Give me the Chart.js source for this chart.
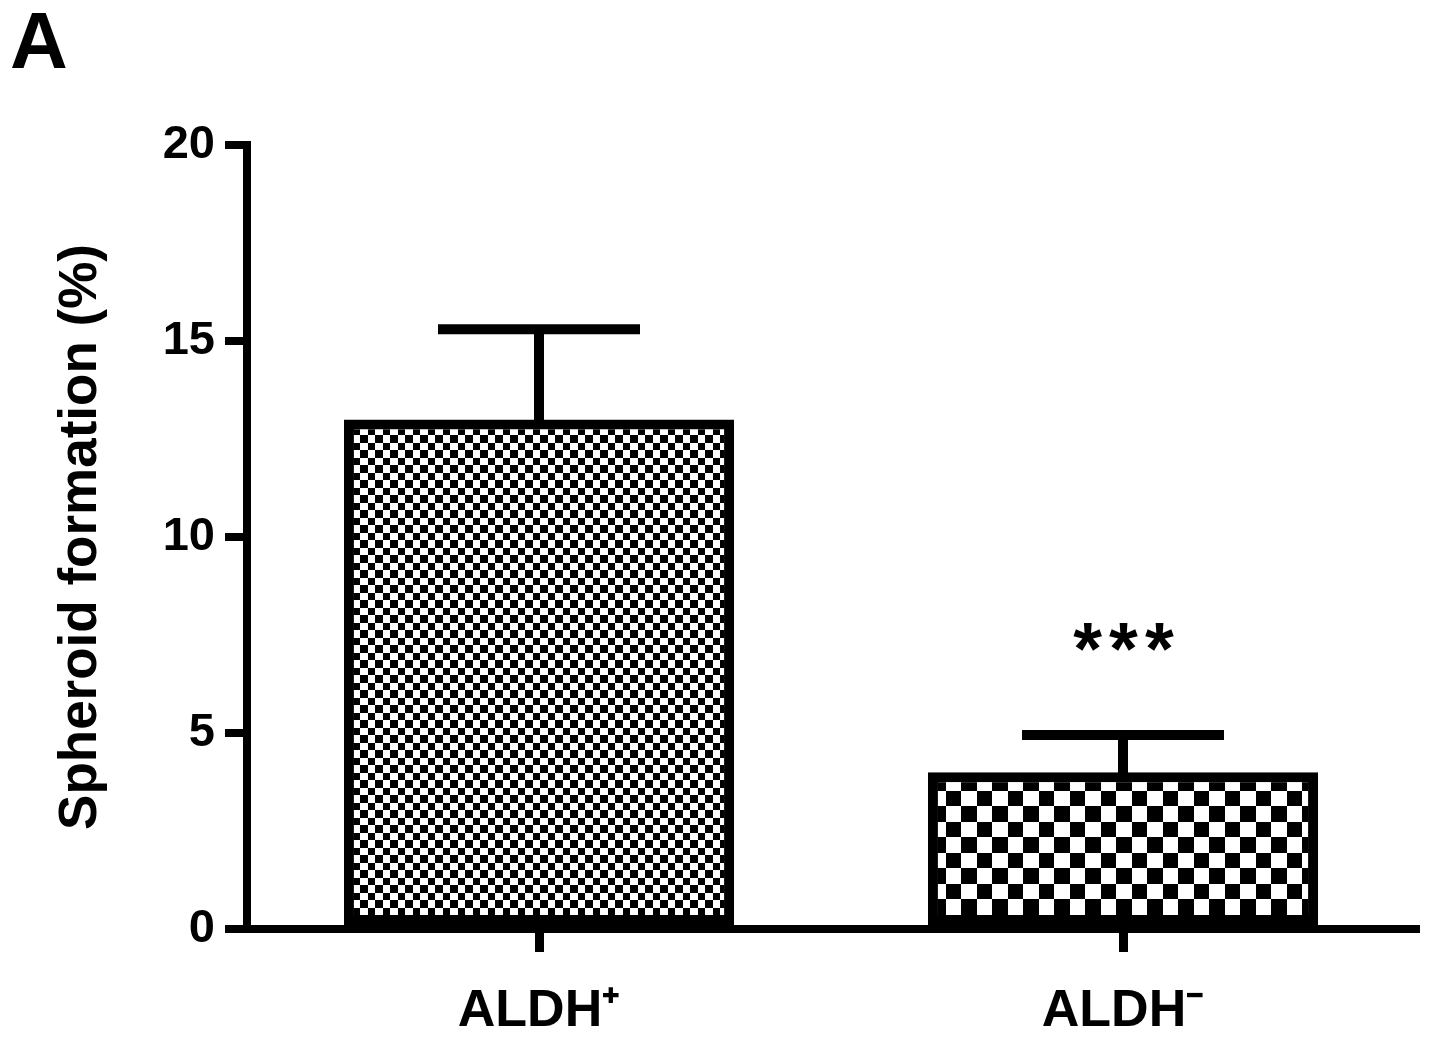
<!DOCTYPE html>
<html>
<head>
<meta charset="utf-8">
<script src="https://cdn.jsdelivr.net/npm/chart.js@4/dist/chart.umd.min.js"></script>
<style>
html,body{margin:0;padding:0;background:#fff;}
#wrap{width:1441px;height:1042px;position:relative;}
</style>
</head>
<body>
<div id="wrap"><canvas id="c" width="1441" height="1042"></canvas></div>
<script>
// ---- data ----
const categories = ['ALDH\u207A', 'ALDH\u207B'];
const means = [13.0, 4.0];
const sem = [2.3, 0.95];
const yTicks = [0, 5, 10, 15, 20];
const significance = ['', '***'];
const panelLabel = 'A';
const yTitle = 'Spheroid formation (%)';

// ---- patterns ----
function checker(sizes) {
  const total = sizes.reduce((a, b) => a + b, 0);
  const cv = document.createElement('canvas');
  cv.width = total; cv.height = total;
  const c = cv.getContext('2d');
  c.fillStyle = '#fff'; c.fillRect(0, 0, total, total);
  c.fillStyle = '#000';
  let y = 0;
  for (let i = 0; i < sizes.length; i++) {
    let x = 0;
    for (let j = 0; j < sizes.length; j++) {
      if ((i + j) % 2 === 0) c.fillRect(x, y, sizes[j], sizes[i]);
      x += sizes[j];
    }
    y += sizes[i];
  }
  return c.createPattern(cv, 'repeat');
}
const ctx = document.getElementById('c').getContext('2d');
const fills = [checker([8, 7, 8, 7]), checker([16, 15])];

const FONT = "'Liberation Sans', Arial, sans-serif";

const errorBars = {
  id: 'errorBars',
  afterDatasetsDraw(chart) {
    const c = chart.ctx;
    const meta = chart.getDatasetMeta(0);
    const ys = chart.scales.y;
    c.save();
    c.strokeStyle = '#000';
    c.lineWidth = 10;
    c.lineCap = 'butt';
    meta.data.forEach((bar, i) => {
      const yTop = ys.getPixelForValue(means[i] + sem[i]);
      const yBase = ys.getPixelForValue(means[i]) + 6;
      c.beginPath();
      c.moveTo(bar.x, yBase);
      c.lineTo(bar.x, yTop);
      c.stroke();
      c.beginPath();
      c.moveTo(bar.x - 101, yTop);
      c.lineTo(bar.x + 101, yTop);
      c.stroke();
      if (significance[i]) {
        c.fillStyle = '#000';
        c.font = 'bold 74px ' + FONT;
        c.textAlign = 'center';
        c.textBaseline = 'alphabetic';
        try { c.letterSpacing = '7px'; } catch (e) {}
        c.fillText(significance[i], bar.x + 4, yTop - 61);
      }
    });
    c.restore();
  }
};

const panel = {
  id: 'panel',
  afterDraw(chart) {
    const c = chart.ctx;
    c.save();
    c.fillStyle = '#000';
    c.font = 'bold 80px ' + FONT;
    c.textAlign = 'left';
    c.textBaseline = 'alphabetic';
    c.fillText(panelLabel, 10, 68);
    c.restore();
  }
};

new Chart(ctx, {
  type: 'bar',
  data: {
    labels: categories,
    datasets: [{
      data: means,
      backgroundColor: fills,
      borderColor: '#000',
      borderWidth: 10,
      borderSkipped: false,
      barPercentage: 0.668,
      categoryPercentage: 1.0
    }]
  },
  options: {
    responsive: false,
    animation: false,
    devicePixelRatio: 1,
    layout: { padding: { left: 0, top: 145, right: 26, bottom: 0 } },
    plugins: { legend: { display: false }, tooltip: { enabled: false }, title: { display: false } },
    scales: {
      x: {
        offset: true,
        grid: { display: true, offset: false, drawOnChartArea: false, drawTicks: true, tickLength: 23, lineWidth: 9, color: '#000' },
        border: { display: true, width: 8, color: '#000' },
        ticks: { color: '#000', padding: 28, font: { family: FONT, size: 52, weight: 'bold' } },
        afterFit(s) { s.height = 1042 - 929; }
      },
      y: {
        min: 0, max: 20,
        afterBuildTicks(s) { s.ticks = yTicks.map(v => ({ value: v })); },
        grid: { display: true, drawOnChartArea: false, drawTicks: true, tickLength: 22, lineWidth: 8, color: '#000' },
        border: { display: true, width: 8, color: '#000' },
        ticks: { color: '#000', padding: 10, font: { family: FONT, size: 47, weight: 'bold' } },
        title: { display: true, text: yTitle, color: '#000', padding: { top: 50, bottom: 0 }, font: { family: FONT, size: 53, weight: 'bold' } },
        afterFit(s) { s.width = 247; }
      }
    }
  },
  plugins: [errorBars, panel]
});
</script>
</body>
</html>
